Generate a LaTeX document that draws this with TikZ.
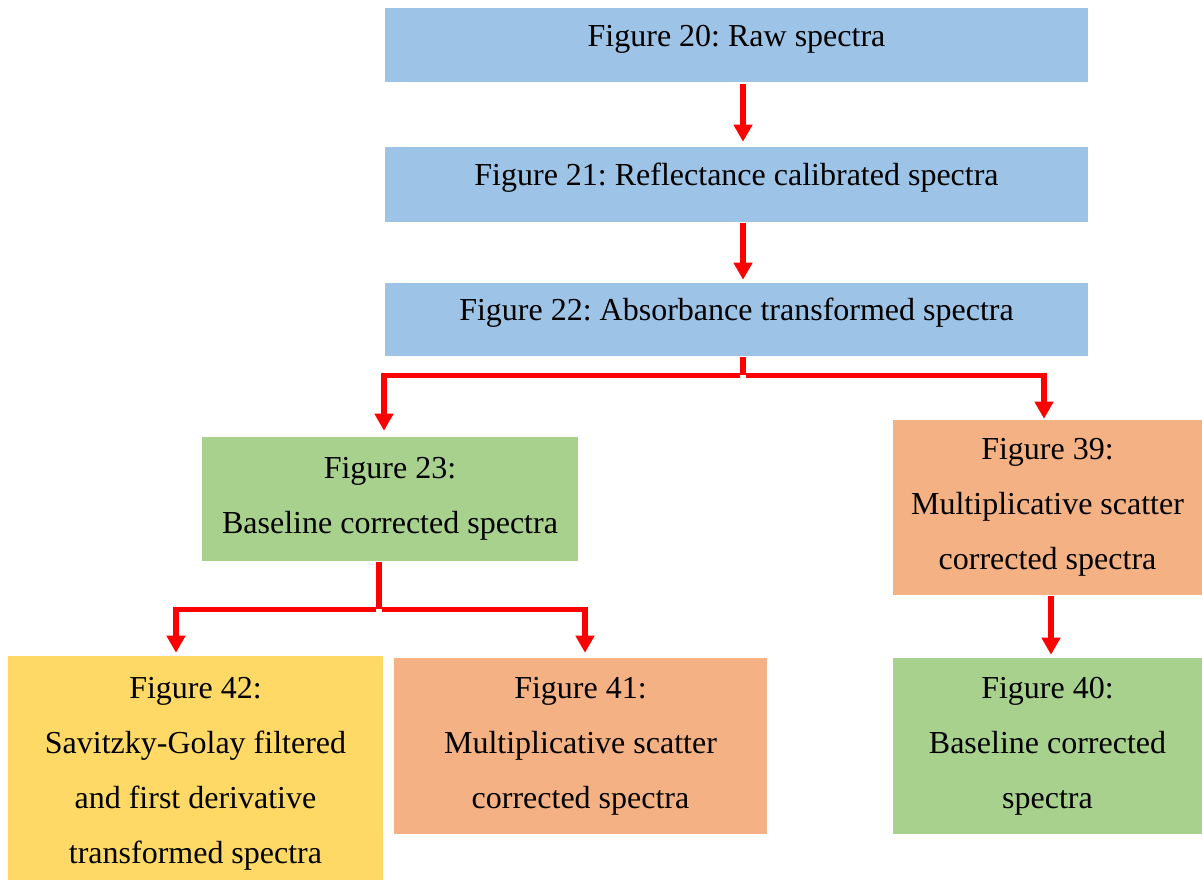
\documentclass[tikz,border=0pt]{standalone}
\usepackage{fontspec}
\setmainfont{Liberation Serif}
\frenchspacing
\usetikzlibrary{arrows.meta,calc}
\definecolor{cblue}{HTML}{9DC3E6}
\definecolor{cgreen}{HTML}{A9D18E}
\definecolor{corange}{HTML}{F4B183}
\definecolor{cyellow}{HTML}{FFD966}
\definecolor{cred}{HTML}{FF0000}
\begin{document}
\begin{tikzpicture}[x=0.75pt,y=-0.75pt,
  box/.style 2 args={draw=none,inner sep=0pt,minimum width=#1*0.75pt,minimum height=#2*0.75pt,
    align=center,font=\fontsize{24}{41.25}\selectfont},
  oneline/.style={text height=16.5pt,text depth=14.5pt},
  conn/.style={draw=cred,line width=4.1pt},
  arr/.style={conn,-{Triangle[width=13.5pt,length=12.75pt]}}
]
\useasboundingbox (0,0) rectangle (1202,880);
\node[box={703}{74},oneline,fill=cblue] (b1) at (736.5,45) {Figure 20: Raw spectra};
\node[box={703}{75},oneline,fill=cblue] (b2) at (736.5,184.5) {Figure 21: Reflectance calibrated spectra};
\node[box={703}{73},oneline,fill=cblue] (b3) at (736.5,319.5) {Figure 22: Absorbance transformed spectra};
\node[box={376}{124},fill=cgreen] (b4) at (390,499) {Figure 23:\\Baseline corrected spectra};
\node[box={309}{175},fill=corange] (b5) at (1047.5,507.5) {Figure 39:\\Multiplicative scatter\\corrected spectra};
\node[box={375}{236},fill=cyellow] (b6) at (195.5,774) {Figure 42:\\Savitzky-Golay filtered\\and first derivative\\transformed spectra};
\node[box={373}{176},fill=corange] (b7) at (580.5,746) {Figure 41:\\Multiplicative scatter\\corrected spectra};
\node[box={309}{176},fill=cgreen] (b8) at (1047.5,746) {Figure 40:\\Baseline corrected\\spectra};

\draw[arr] ($(b1.south)+(6.5,2)$) -- ($(b2.north)+(6.5,-5)$);
\draw[arr] ($(b2.south)+(6.5,1)$) -- ($(b3.north)+(6.5,-3)$);

\coordinate (j3) at ($(b3.south)+(6.5,19)$);
\draw[conn] ($(b3.south)+(6.5,1)$) -- (j3);
\draw[arr] ([xshift=-2pt]j3) -| ($(b4.north)+(-6,-6)$);
\draw[arr] ([xshift=2pt]j3) -| ($(b5.north)+(-3.5,-1)$);

\coordinate (j4) at ($(b4.south)+(-11,48)$);
\draw[conn] ($(b4.south)+(-11,1)$) -- (j4);
\draw[arr] ([xshift=-2pt]j4) -| ($(b6.north)+(-19.5,-3)$);
\draw[arr] ([xshift=2pt]j4) -| ($(b7.north)+(4.5,-5)$);

\draw[arr] ($(b5.south)+(3.5,1)$) -- ($(b8.north)+(3.5,-3)$);
\end{tikzpicture}
\end{document}
